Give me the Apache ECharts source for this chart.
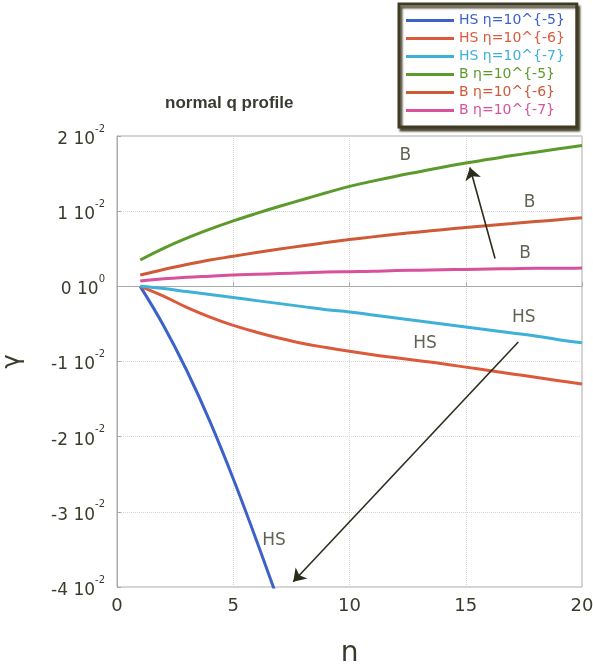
<!DOCTYPE html>
<html>
<head>
<meta charset="utf-8">
<script src="https://cdn.jsdelivr.net/npm/echarts@6/dist/echarts.min.js"></script>
<style>
  html, body { margin: 0; padding: 0; background: #fff; }
  #chart { width: 593px; height: 666px; }
</style>
</head>
<body>
<div id="chart"></div>
<script>
// mode number n
const nValues = [1, 2, 3, 4, 5, 6, 7, 8, 9, 10, 11, 12, 13, 14, 15, 16, 17, 18, 19, 20]

// growth rate gamma
const hsEta5 = [0, -0.0052, -0.0112, -0.0180, -0.0256, -0.0338, -0.0424]
const hsEta6 = [0, -0.0013, -0.0028, -0.0041, -0.0052, -0.0061, -0.0069, -0.0076, -0.00815, -0.00865,
  -0.0091, -0.0095, -0.0099, -0.0103, -0.01075, -0.0112, -0.01165, -0.0121, -0.01255, -0.0130]
const hsEta7 = [0, -0.0003, -0.0007, -0.0011, -0.0015, -0.0019, -0.0023, -0.0027, -0.0031, -0.0034,
  -0.0038, -0.0042, -0.0046, -0.0050, -0.0054, -0.0058, -0.0062, -0.0066, -0.0071, -0.0075]
const bEta5 = [0.0035, 0.00505, 0.0064, 0.0076, 0.0087, 0.0097, 0.01065, 0.01155, 0.01245, 0.0133,
  0.0140, 0.01465, 0.01525, 0.01585, 0.0164, 0.0169, 0.0174, 0.01785, 0.0183, 0.01875]
const bEta6 = [0.0015, 0.00225, 0.0029, 0.0035, 0.0040, 0.0045, 0.00496, 0.0054, 0.00582, 0.00622,
  0.00658, 0.00692, 0.00724, 0.00754, 0.00782, 0.00809, 0.00835, 0.00861, 0.00887, 0.00912]
const bEta7 = [0.0007, 0.0010, 0.0012, 0.00135, 0.0015, 0.0016, 0.0017, 0.0018, 0.0019, 0.00195,
  0.0020, 0.0021, 0.00215, 0.0022, 0.00225, 0.0023, 0.00235, 0.0024, 0.0024, 0.00245]

const seriesNames = ['HS η=10^{-5}', 'HS η=10^{-6}', 'HS η=10^{-7}', 'B η=10^{-5}', 'B η=10^{-6}', 'B η=10^{-7}']
const seriesData = [hsEta5, hsEta6, hsEta7, bEta5, bEta6, bEta7]
const seriesColors = ['#3b62c9', '#dc5a3c', '#3fb0d8', '#5c9a2c', '#cf5a38', '#d9509c']

// y tick labels: mantissa and exponent
const yTicks = [-0.04, -0.03, -0.02, -0.01, 0, 0.01, 0.02]
const yMantissa = ['-4', '-3', '-2', '-1', '0', '1', '2']
const yExponent = ['-2', '-2', '-2', '-2', '0', '-2', '-2']

// text annotations on the plot
const noteText = ['B', 'B', 'B', 'HS', 'HS', 'HS']
const noteN = [12.4, 17.75, 17.55, 17.5, 13.25, 6.75]
const noteGamma = [0.0174, 0.0112, 0.0044, -0.0041, -0.0076, -0.0338]

// arrows (tail -> head)
const arrowTail = [[16.26, 0.0037], [17.26, -0.0074]]
const arrowHead = [[15.18, 0.0158], [7.58, -0.0393]]

const textColor = '#3b3a2c'
const font = 'DejaVu Sans, sans-serif'

const chart = echarts.init(document.getElementById('chart'))

const lines = seriesNames.map((name, i) => ({
  name: name,
  type: 'line',
  data: seriesData[i].map((v, k) => [nValues[k], v]),
  smooth: 0.4,
  showSymbol: false,
  symbol: 'none',
  clip: true,
  lineStyle: { color: seriesColors[i], width: 3 },
  itemStyle: { color: seriesColors[i] },
  z: 3
}))

lines.push({
  name: 'notes',
  type: 'scatter',
  symbolSize: 0,
  silent: true,
  data: noteText.map((t, i) => [noteN[i], noteGamma[i], t]),
  label: {
    show: true,
    position: 'inside',
    formatter: p => p.value[2],
    fontSize: 17,
    fontFamily: font,
    color: textColor
  },
  markLine: {
    silent: true,
    animation: false,
    symbol: ['none', 'arrow'],
    symbolSize: 12,
    label: { show: false },
    lineStyle: { color: '#2c2c1c', width: 1.6, type: 'solid' },
    data: arrowTail.map((t, i) => [{ coord: t }, { coord: arrowHead[i] }])
  },
  z: 4
})

chart.setOption({
  backgroundColor: '#fff',
  animation: false,
  title: {
    text: 'normal q profile',
    left: 160,
    top: 90,
    textStyle: {
      fontSize: 17,
      fontWeight: 'bold',
      fontFamily: 'Liberation Sans, Arial, sans-serif',
      color: '#3a3a32'
    }
  },
  legend: {
    data: seriesNames.map((n, i) => ({ name: n, textStyle: { color: seriesColors[i] } })),
    orient: 'vertical',
    left: 399,
    top: 4,
    icon: 'rect',
    itemWidth: 48,
    itemHeight: 3,
    itemGap: 1,
    padding: [8, 12, 8, 7],
    backgroundColor: '#fff',
    borderColor: '#3f3b22',
    borderWidth: 3,
    shadowColor: 'rgba(60,55,30,0.85)',
    shadowBlur: 2,
    shadowOffsetX: 2,
    shadowOffsetY: 3,
    textStyle: {
      fontSize: 14,
      lineHeight: 17,
      fontFamily: font
    }
  },
  grid: {
    left: 117,
    right: 11,
    top: 136,
    bottom: 79,
    outerBoundsMode: 'none',
    show: true,
    borderColor: '#aaa',
    borderWidth: 1
  },
  xAxis: {
    type: 'value',
    min: 0,
    max: 20,
    interval: 5,
    name: 'n',
    nameLocation: 'middle',
    nameGap: 53,
    nameTextStyle: { fontSize: 28, color: textColor, fontFamily: font },
    axisLine: { show: true, lineStyle: { color: '#aaa' } },
    axisTick: { inside: true, length: 4, lineStyle: { color: '#aaa' } },
    splitLine: { show: true, lineStyle: { color: '#d6d6d6', type: 'dotted' } },
    axisLabel: {
      fontSize: 18,
      margin: 10,
      color: textColor,
      fontFamily: font
    }
  },
  yAxis: {
    type: 'value',
    min: -0.04,
    max: 0.02,
    interval: 0.01,
    name: 'γ',
    nameLocation: 'middle',
    nameGap: 92,
    nameTextStyle: { fontSize: 24, color: textColor, fontFamily: font },
    axisLine: { show: true, lineStyle: { color: '#aaa' } },
    axisTick: { inside: true, length: 4, lineStyle: { color: '#aaa' } },
    splitLine: { show: true, lineStyle: { color: '#d6d6d6', type: 'dotted' } },
    axisLabel: {
      margin: 12,
      formatter: v => {
        const k = yTicks.findIndex(t => Math.abs(t - v) < 1e-9)
        if (k < 0) return ''
        return '{m|' + yMantissa[k] + ' 10}{s|' + yExponent[k] + '}'
      },
      rich: {
        m: { fontSize: 17, color: textColor, fontFamily: font, verticalAlign: 'bottom', lineHeight: 24 },
        s: { fontSize: 10, color: textColor, fontFamily: font, verticalAlign: 'top', lineHeight: 11 }
      }
    }
  },
  series: lines
})
</script>
</body>
</html>
